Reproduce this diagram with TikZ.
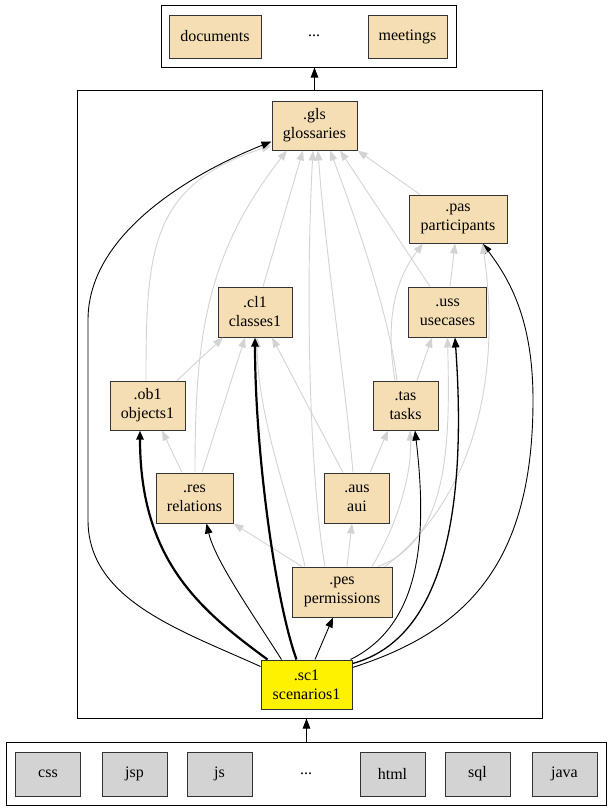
\documentclass[tikz,border=0pt]{standalone}
\usepackage{fontspec}
\setmainfont{Liberation Serif}
\usetikzlibrary{arrows.meta}
\definecolor{wheatc}{HTML}{F5DEB3}
\definecolor{greyedge}{HTML}{D3D3D3}
\definecolor{boxgrey}{HTML}{D3D3D3}
\definecolor{outline}{HTML}{333333}
\tikzset{
  tan/.style={draw=outline, line width=1pt, fill=wheatc, inner sep=0pt, minimum height=49pt, align=center, font=\fontsize{16}{19}\selectfont},
  langbox/.style={draw=outline, line width=1pt, fill=boxgrey, inner sep=0pt, minimum width=65pt, minimum height=44pt, font=\fontsize{16}{19}\selectfont},
  docbox/.style={draw=outline, line width=1pt, fill=wheatc, inner sep=0pt, minimum height=43pt, font=\fontsize{16}{19}\selectfont},
  plain/.style={inner sep=0pt, font=\fontsize{16}{19}\selectfont},
  frame/.style={draw=black, line width=1pt, inner sep=0pt},
  dep/.style={draw=greyedge, line width=0.9pt, -{Triangle[length=10pt,width=7.5pt]}},
  uses/.style={draw=black, line width=0.9pt, -{Triangle[length=10pt,width=7.5pt]}},
  usesthick/.style={draw=black, line width=2.2pt, -{Triangle[length=9pt,width=7pt]}},
  usesmid/.style={draw=black, line width=1.3pt, -{Triangle[length=10pt,width=7.5pt]}}
}
\begin{document}
\begin{tikzpicture}[x=1pt,y=-1pt]
\useasboundingbox (0,0) rectangle (611,811);
% clusters
\node[frame, minimum width=295.5pt, minimum height=62pt] (topcl) at (308.75,36) {};
\node[frame, minimum width=465pt, minimum height=627.5pt] (maincl) at (309.5,404.25) {};
\node[frame, minimum width=600pt, minimum height=63pt] (botcl) at (306,774) {};
% top cluster
\node[docbox, minimum width=92pt] (documents) at (215,36.5) {documents};
\node[plain] (topdots) at (314,36) {...};
\node[docbox, minimum width=79pt] (meetings) at (407.5,36.5) {meetings};
% bottom cluster
\node[langbox] (css) at (48,774) {css};
\node[langbox] (jsp) at (134.5,774) {jsp};
\node[langbox] (js) at (219.5,774) {js};
\node[plain] (botdots) at (306,774) {...};
\node[langbox] (html) at (392.5,774) {html};
\node[langbox] (sql) at (477.5,774) {sql};
\node[langbox] (java) at (564.5,774) {java};
% main nodes
\node[tan, minimum width=85pt] (gls) at (314.5,125.5) {.gls\\glossaries};
\node[tan, minimum width=98pt, minimum height=48pt] (pas) at (458,219) {.pas\\participants};
\node[tan, minimum width=74pt, minimum height=50pt] (cl1) at (255,312) {.cl1\\classes1};
\node[tan, minimum width=78pt, minimum height=50pt] (uss) at (447.5,312) {.uss\\usecases};
\node[tan, minimum width=75pt] (ob1) at (147.5,405.5) {.ob1\\objects1};
\node[tan, minimum width=65pt] (tas) at (405.5,405.5) {.tas\\tasks};
\node[tan, minimum width=77pt, minimum height=50pt] (res) at (194.5,498) {.res\\relations};
\node[tan, minimum width=65pt, minimum height=50pt] (aus) at (357,498) {.aus\\aui};
\node[tan, minimum width=100pt, minimum height=50pt] (pes) at (342,592) {.pes\\permissions};
\node[tan, fill=yellow, minimum width=91pt] (sc1) at (306.5,684.5) {.sc1\\scenarios1};
% cluster connectors
\draw[uses] (maincl.north -| gls) -- (topcl.south -| gls);
\draw[uses] (botcl.north -| sc1) -- (maincl.south -| sc1);
% black edge under grey arrowhead at pas
\draw[uses] ([yshift=-8pt]sc1.north east) .. controls (470,630) and (533,560) .. (533,400)
  .. controls (533,320) and (510,280) .. ([xshift=-25pt]pas.south east);
% grey dependency edges
\draw[dep] ([xshift=-1.5pt]ob1.north) .. controls (146,250) and (150,185) .. ([yshift=-20pt]gls.west);
\draw[dep] ([xshift=29.5pt]ob1.north) -- ([xshift=-32pt]cl1.south);
\draw[dep] ([xshift=-12.5pt]res.north) -- ([xshift=14.5pt]ob1.south);
\draw[dep] ([xshift=7.5pt]res.north) -- ([xshift=-10pt]cl1.south);
\draw[dep] ([xshift=0.5pt]res.north) .. controls (195,340) and (205,255) .. ([xshift=-27.5pt]gls.south);
\draw[dep] ([xshift=8pt]cl1.north) -- ([xshift=-11.5pt]gls.south);
\draw[dep] ([xshift=-4pt]aus.north) .. controls (345,380) and (325,250) .. ([xshift=3.5pt]gls.south);
\draw[dep] ([xshift=-14pt]aus.north) -- ([xshift=17pt]cl1.south);
\draw[dep] ([xshift=13pt]aus.north) -- ([xshift=-17.5pt]tas.south);
\draw[dep] ([xshift=-17pt]pes.north) .. controls (310,480) and (305,300) .. ([xshift=-1.5pt]gls.south);
\draw[dep] ([xshift=-37pt]pes.north) .. controls (290,500) and (258,420) .. ([xshift=2pt]cl1.south);
\draw[dep] ([xshift=-40pt]pes.north) -- (res.south east);
\draw[dep] ([xshift=5pt]pes.north) -- ([xshift=-5pt]aus.south);
\draw[dep] ([xshift=30pt]pes.north) .. controls (400,520) and (412,470) .. ([xshift=4.5pt]tas.south);
\draw[dep] ([xshift=36pt]pes.north) .. controls (450,540) and (450,440) .. (uss.south);
\draw[dep] ([xshift=43pt]pes.north) .. controls (460,510) and (505,400) .. ([xshift=-25pt]pas.south east);
\draw[dep] ([xshift=-8.5pt]tas.north) .. controls (390,320) and (360,230) .. ([xshift=15.5pt]gls.south);
\draw[dep] ([xshift=11.5pt]tas.north) -- ([xshift=-15.5pt]uss.south);
\draw[dep] ([xshift=-10.5pt]tas.north) .. controls (385,320) and (395,280) .. ([xshift=-35pt]pas.south);
\draw[dep] ([xshift=-17.5pt]uss.north) -- ([xshift=25.5pt]gls.south);
\draw[dep] ([xshift=2.5pt]uss.north) -- ([xshift=-3pt]pas.south);
\draw[dep] ([xshift=-38pt]pas.north) -- (gls.south east);
% black usage edges from scenarios1
\draw[uses] ([yshift=-7pt]sc1.north west) .. controls (180,630) and (88,600) .. (88,520)
  -- (88,320) .. controls (88,230) and (200,170) .. ([yshift=-16pt]gls.west);
\draw[usesthick] ([xshift=-39pt]sc1.north) .. controls (200,610) and (140,560) .. ([xshift=-7.5pt]ob1.south);
\draw[uses] ([xshift=-25pt]sc1.north) .. controls (250,610) and (215,560) .. ([xshift=12pt]res.south);
\draw[usesthick] ([xshift=-10pt]sc1.north) .. controls (275,600) and (255,450) .. (cl1.south);
\draw[uses] ([xshift=8.5pt]sc1.north) -- ([xshift=-9pt]pes.south);
\draw[uses] ([xshift=-2pt]sc1.north east) .. controls (420,625) and (428,540) .. ([xshift=9.5pt]tas.south);
\draw[usesmid] ([yshift=-4pt]sc1.north east) .. controls (440,640) and (468,520) .. ([xshift=7.5pt]uss.south);
\end{tikzpicture}
\end{document}
